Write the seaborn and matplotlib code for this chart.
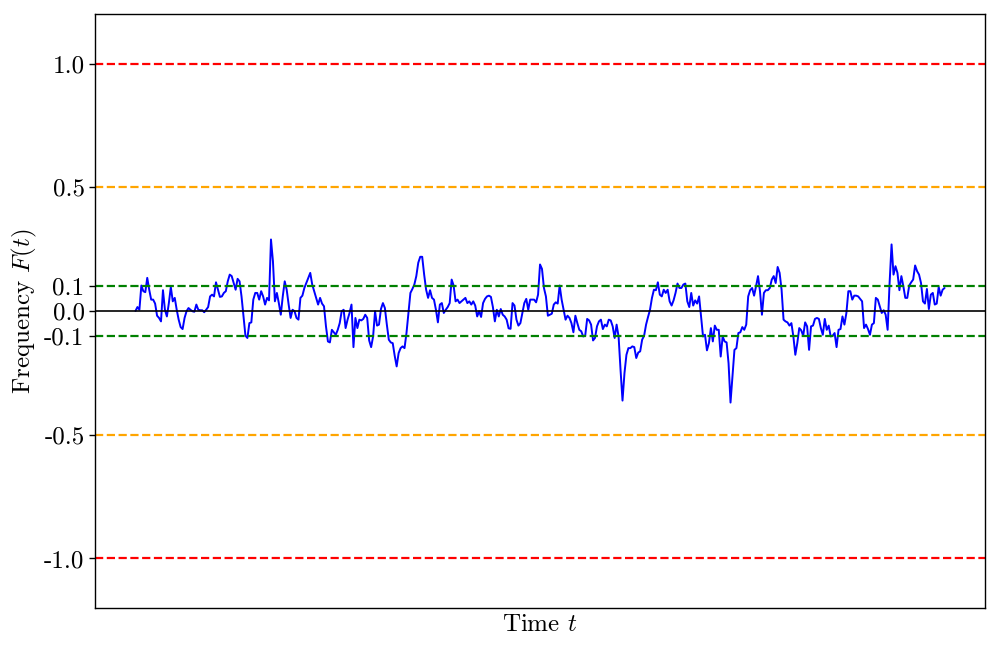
import numpy as np
import pandas as pd
import matplotlib
matplotlib.use("Agg")
import matplotlib.pyplot as plt
import seaborn as sns

# Frequency values (thousandths of a unit)
freq_milli = [
    0, 16, 5, 103, 80, 76, 134, 86, 46, 46, 30, -19, -28, -42, 84, 5, -22, 32, 97, 39,
    53, 5, -35, -65, -73, -28, -1, 12, 5, -1, -3, 26, 5, 3, 3, -5, 5, 16, 59, 66,
    59, 116, 86, 57, 59, 73, 80, 120, 147, 141, 113, 86, 130, 120, 59, -22, -100, -109, -49, -46,
    46, 73, 73, 46, 80, 59, 26, 53,
    43, 289, 201, 39, 73, 32, -15, 59, 120, 86, 26, -28, 5, -1, -28, -35, 53, 62, 93, 113,
    134, 154, 107, 80, 53, 26, 53, 30, 19, -62, -123, -127, -76, -86, -96, -76, -49, -1, 5, -69,
    -35, -8, 26, -146, -28, -69, -35, -38, -32, -15, -28, -119, -146, -103, -1, -59, -55, 8, 32, 12,
    -55, -116, -127, -130, -181, -224, -170, -150,
    -143, -150, -89, -8, 73, 89, 107, 141, 195, 219, 219, 147, 86, 53, 84, 53, 46, 5, -46, 26,
    32, -8, 5, 16, 32, 127, 103, 39, 46, 32, 39, 46, 53, 32, 39, 26, 39, 22, -22, -1,
    -24, 32, 49, 59, 62, 57, 16, -42, 5, -22, 8, -15, -22, -35, -70, -72, 32, 22, -35, -59,
    -49, -8, 32, 49, 5, 46,
    46, 46, 35, 66, 188, 170, 93, 59, -19, -15, -11, 26, 35, 30, 103, 46, 5, -35, -19, -28,
    -49, -86, -19, -49, -76, -82, -103, -100, -32, -38, -55, -119, -109, -62, -42, -35, -73, -55, -62, -35,
    -38, -62, -109, -55, -103, -238, -362, -251, -177, -150, -150, -143, -146, -190, -168, -163, -116, -100, -55, -24,
    5, 53, 86, 84, 116, 66, 59, 86, 73, 86,
    39, 22, 43, 73, 111, 93, 93, 107, 111, 39, 16, 73, 22, 43, 30, 59, -24, -103, -96, -159,
    -130, -69, -123, -59, -76, -76, -184, -103, -123, -127, -211, -370, -265, -157, -150, -89, -86, -65, -76, -55,
    59, 84, 93, 62, 100, 141, 80, -15, 73, 84, 84, 93, 127, 141, 113, 178, 154, 86, -35, -42,
    -46, -59, -49, -103, -177, -130, -69, -78, -100,
    -46, -62, -157, -62, -59, -32, -28, -32, -69, -96, -32, -76, -59, -103, -100, -89, -146, -76, -73, -22,
    -55, -8, 80, 80, 46, 62, 62, 59, 49, 39, -69, -55, -73, -96, -55, -49, 53, 46, 19, -8,
    3, -15, -76, 113, 269, 147, 181, 154, 84, 141, 100, 53, 53, 103, 116, 127, 184, 161, 147, 113,
    39, 30, 89, 8, 66, 73, 26, 30, 97, 62, 86, 93,
]

hline_levels = [1.0, 0.5, 0.1, -0.1, -0.5, -1.0]
hline_colors = ["red", "orange", "green", "green", "orange", "red"]
ytick_values = [-1.0, -0.5, -0.1, 0.0, 0.1, 0.5, 1.0]
ytick_labels = ["-1.0", "-0.5", "-0.1", "0.0", "0.1", "0.5", "1.0"]

freq = np.array(freq_milli) / 1000.0
df = pd.DataFrame({"t": np.arange(len(freq)), "F": freq})

sns.set_style("ticks")
plt.rcParams["font.family"] = ["cmr10", "DejaVu Serif"]
plt.rcParams["mathtext.fontset"] = "cm"
plt.rcParams["axes.unicode_minus"] = False
plt.rcParams["axes.formatter.use_mathtext"] = True
plt.rcParams["text.color"] = "black"
plt.rcParams["axes.labelcolor"] = "black"
plt.rcParams["xtick.color"] = "black"
plt.rcParams["ytick.color"] = "black"
plt.rcParams["axes.edgecolor"] = "black"

fig = plt.figure(figsize=(9.97, 6.49), dpi=100)
ax = fig.add_axes([0.0953, 0.0632, 0.8927, 0.9152])

sns.lineplot(data=df, x="t", y="F", color="blue", linewidth=1.4, ax=ax)
ax.axhline(0.0, color="black", linewidth=1.2)
for lvl, col in zip(hline_levels, hline_colors):
    ax.axhline(lvl, color=col, linestyle="--", linewidth=1.6)

ax.set_ylim(-1.2, 1.2)
ax.set_yticks(ytick_values)
ax.set_yticklabels(ytick_labels)
ax.set_xticks([])
ax.tick_params(axis="y", labelsize=18, length=4, width=1, direction="out", colors="black")
ax.set_xlabel("Time $t$", fontsize=18, color="black")
ax.set_ylabel("Frequency $F(t)$", fontsize=18, color="black")
for s in ax.spines.values():
    s.set_visible(True)
    s.set_linewidth(1.0)
    s.set_color("black")

fig.savefig("out.png", dpi=100)
